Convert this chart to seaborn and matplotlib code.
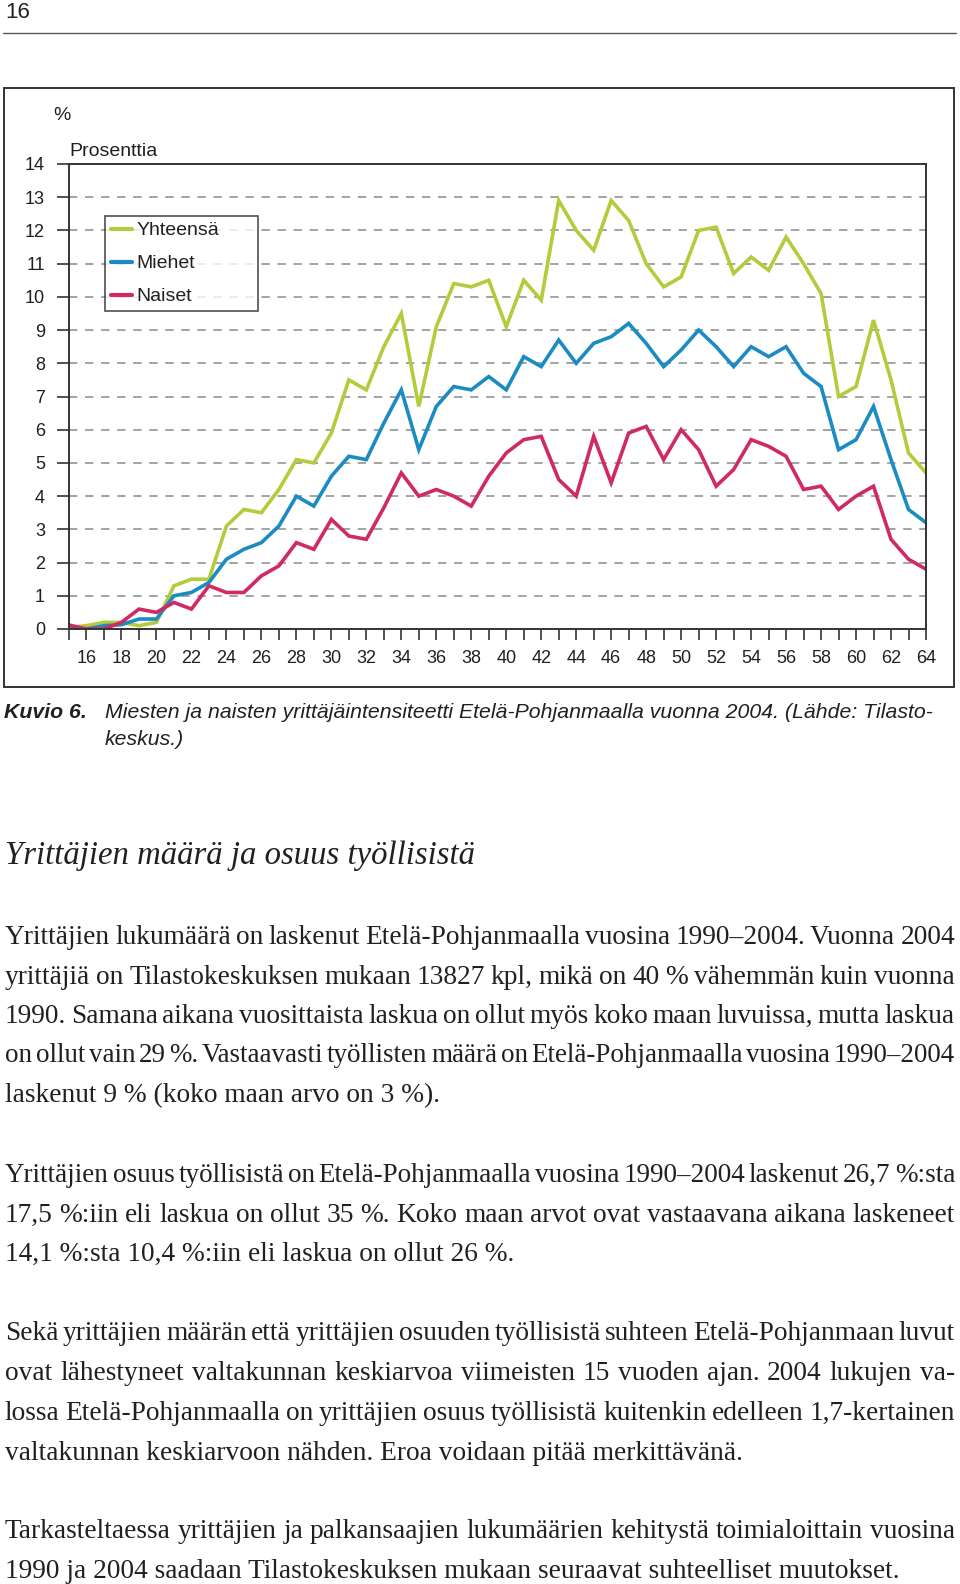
import matplotlib
matplotlib.use("Agg")
import matplotlib.pyplot as plt
import matplotlib.patches as patches
from matplotlib.ticker import FixedLocator
import seaborn as sns

# ---- chart data ----
ages = list(range(15, 65))
yhteensa = [0.05, 0.1, 0.2, 0.2, 0.1, 0.2, 1.3, 1.5, 1.5, 3.1,
            3.6, 3.5, 4.2, 5.1, 5.0, 5.9, 7.5, 7.2, 8.5, 9.5,
            6.7, 9.1, 10.4, 10.3, 10.5, 9.1, 10.5, 9.9, 12.9, 12.0,
            11.4, 12.9, 12.3, 11.0, 10.3, 10.6, 12.0, 12.1, 10.7, 11.2,
            10.8, 11.8, 11.0, 10.1, 7.0, 7.3, 9.3, 7.5, 5.3, 4.7]
miehet = [0.0, 0.0, 0.1, 0.13, 0.3, 0.3, 1.0, 1.1, 1.4, 2.1,
          2.4, 2.6, 3.1, 4.0, 3.7, 4.6, 5.2, 5.1, 6.2, 7.2,
          5.4, 6.7, 7.3, 7.2, 7.6, 7.2, 8.2, 7.9, 8.7, 8.0,
          8.6, 8.8, 9.2, 8.6, 7.9, 8.4, 9.0, 8.5, 7.9, 8.5,
          8.2, 8.5, 7.7, 7.3, 5.4, 5.7, 6.7, 5.1, 3.6, 3.2]
naiset = [0.12, 0.0, 0.0, 0.2, 0.6, 0.5, 0.8, 0.6, 1.3, 1.1,
          1.1, 1.6, 1.9, 2.6, 2.4, 3.3, 2.8, 2.7, 3.65, 4.7,
          4.0, 4.2, 4.0, 3.7, 4.6, 5.3, 5.7, 5.8, 4.5, 4.0,
          5.8, 4.4, 5.9, 6.1, 5.1, 6.0, 5.4, 4.3, 4.8, 5.7,
          5.5, 5.2, 4.2, 4.3, 3.6, 4.0, 4.3, 2.7, 2.1, 1.8]
series_names = ["Yhteensä", "Miehet", "Naiset"]
series_colors = ["#b3cc3c", "#1b8bc4", "#cf2a64"]
y_ticks = list(range(0, 15))
x_label_ticks = list(range(16, 65, 2))

page_number = "16"
caption_label = "Kuvio 6."
caption_lines = ["Miesten ja naisten yrittäjäintensiteetti Etelä-Pohjanmaalla vuonna 2004. (Lähde: Tilasto-",
                 "keskus.)"]
heading = "Yrittäjien määrä ja osuus työllisistä"
paragraphs = [
    ["Yrittäjien lukumäärä on laskenut Etelä-Pohjanmaalla vuosina 1990–2004. Vuonna 2004",
     "yrittäjiä on Tilastokeskuksen mukaan 13827 kpl, mikä on 40 % vähemmän kuin vuonna",
     "1990. Samana aikana vuosittaista laskua on ollut myös koko maan luvuissa, mutta laskua",
     "on ollut vain 29 %. Vastaavasti työllisten määrä on Etelä-Pohjanmaalla vuosina 1990–2004",
     "laskenut 9 % (koko maan arvo on 3 %)."],
    ["Yrittäjien osuus työllisistä on Etelä-Pohjanmaalla vuosina 1990–2004 laskenut 26,7 %:sta",
     "17,5 %:iin eli laskua on ollut 35 %. Koko maan arvot ovat vastaavana aikana laskeneet",
     "14,1 %:sta 10,4 %:iin eli laskua on ollut 26 %."],
    ["Sekä yrittäjien määrän että yrittäjien osuuden työllisistä suhteen Etelä-Pohjanmaan luvut",
     "ovat lähestyneet valtakunnan keskiarvoa viimeisten 15 vuoden ajan. 2004 lukujen va-",
     "lossa Etelä-Pohjanmaalla on yrittäjien osuus työllisistä kuitenkin edelleen 1,7-kertainen",
     "valtakunnan keskiarvoon nähden. Eroa voidaan pitää merkittävänä."],
    ["Tarkasteltaessa yrittäjien ja palkansaajien lukumäärien kehitystä toimialoittain vuosina",
     "1990 ja 2004 saadaan Tilastokeskuksen mukaan seuraavat suhteelliset muutokset."],
]
para_baselines = [[944, 983.5, 1023, 1062.5, 1102],
                  [1182, 1221.5, 1261],
                  [1340, 1380, 1420, 1460],
                  [1538, 1578]]

W, H = 960, 1584
SANS = ["Liberation Sans", "DejaVu Sans"]
SERIF = ["Liberation Serif", "DejaVu Serif"]
INK = "#231f20"

sns.set_theme(style="white")
plt.rcParams["font.family"] = SANS

fig = plt.figure(figsize=(W / 100, H / 100), dpi=100)
renderer = fig.canvas.get_renderer()


def fx(x):
    return x / W


def fy(y):
    return 1 - y / H


# page header
fig.text(fx(5), fy(18), page_number, fontsize=16, color=INK, va="baseline", family=SANS)
fig.add_artist(plt.Line2D([fx(3), fx(956)], [fy(33), fy(33)], color="#555555", lw=1.0))

# chart frame
fig.add_artist(patches.Rectangle((fx(4), fy(687)), fx(954) - fx(4), fy(88) - fy(687),
                                 fill=False, edgecolor="#333333", lw=1.4))

# axes: x 15 -> 69px, 64 -> 926px ; y 0 -> 629px, 14 -> 164px
ax = fig.add_axes([fx(69), fy(629), fx(926) - fx(69), fy(164) - fy(629)])
for vals, name, col in zip([yhteensa, miehet, naiset], series_names, series_colors):
    sns.lineplot(x=ages, y=vals, color=col, linewidth=2.6, label=name, ax=ax,
                 solid_joinstyle="miter")
ax.set_xlim(15, 64)
ax.set_ylim(0, 14)
ax.set_facecolor("white")
ax.xaxis.set_major_locator(FixedLocator(x_label_ticks))
ax.xaxis.set_minor_locator(FixedLocator([a for a in ages if a not in x_label_ticks]))
ax.set_xticklabels([str(t) for t in x_label_ticks])
ax.yaxis.set_major_locator(FixedLocator(y_ticks))
ax.set_yticklabels([str(t) for t in y_ticks])
for yv in y_ticks[1:-1]:
    ax.axhline(yv, color="#8a8a8a", lw=1.1, dashes=(5.5, 5), zorder=0)
for s in ax.spines.values():
    s.set_color("#333333")
    s.set_linewidth(1.4)
ax.tick_params(axis="x", which="both", direction="out", length=8, width=1.2,
               color="#333333", pad=7.2, labelsize=13, labelcolor=INK, bottom=True)
ax.tick_params(axis="y", which="both", direction="out", length=8.6, width=1.2,
               color="#333333", pad=8.6, labelsize=13, labelcolor=INK, left=True)
ax.set_xlabel("")
ax.set_ylabel("")
ax.grid(False)

leg = ax.legend(loc="upper left", bbox_to_anchor=(fx(105), fy(315), fx(258) - fx(105), fy(216) - fy(315)),
                bbox_transform=fig.transFigure, mode="expand", borderaxespad=0,
                fontsize=14, frameon=True, fancybox=False, edgecolor="#222222",
                handlelength=1.1, handletextpad=0.2, labelspacing=0.79, borderpad=0.3)
leg.get_frame().set_linewidth(1.2)
for h in leg.get_lines():
    h.set_linewidth(3.0)
for t in leg.get_texts():
    t.set_color(INK)

fig.text(fx(53), fy(120), "%", fontsize=14, color=INK, va="baseline", family=SANS)
fig.text(fx(69), fy(156), "Prosenttia", fontsize=14, color=INK, va="baseline", family=SANS)

# caption
fig.text(fx(4), fy(718), caption_label, fontsize=15.3, weight="bold", style="italic",
         color=INK, va="baseline", family=SANS)
for line, base in zip(caption_lines, [718, 745]):
    fig.text(fx(105), fy(base), line, fontsize=15.35, style="italic", color=INK,
             va="baseline", family=SANS)

# heading
fig.text(fx(5), fy(864), heading, fontsize=23.55, style="italic", color=INK,
         va="baseline", family=SERIF)


def measure(s, size, **kw):
    t = fig.text(0, 0, s, fontsize=size, **kw)
    w = t.get_window_extent(renderer).width
    t.remove()
    return w


def text_line(x0, x1, base, line, justify, size, **kw):
    if not justify:
        fig.text(fx(x0), fy(base), line, ha="left", va="baseline", fontsize=size, **kw)
        return
    words = line.split(" ")
    space = measure("a a", size, **kw) - measure("aa", size, **kw)
    total = sum(measure(w, size, **kw) for w in words)
    min_gap = 0.55 * space
    if total + min_gap * (len(words) - 1) > x1 - x0:
        # typesetter squeezed this line: shrink it a little so it still fits
        size = size * (x1 - x0) / (total + min_gap * (len(words) - 1))
    objs = [fig.text(0, fy(base), w, ha="left", va="baseline", fontsize=size, **kw) for w in words]
    widths = [o.get_window_extent(renderer).width for o in objs]
    gap = (x1 - x0 - sum(widths)) / (len(words) - 1)
    x = x0
    for o, w in zip(objs, widths):
        o.set_x(fx(x))
        x += w + gap


for lines, bases in zip(paragraphs, para_baselines):
    for i, (line, base) in enumerate(zip(lines, bases)):
        text_line(5, 955, base, line, i < len(lines) - 1, 19.75,
                  color=INK, family=SERIF)

fig.savefig("out.png", dpi=100, facecolor="white")
